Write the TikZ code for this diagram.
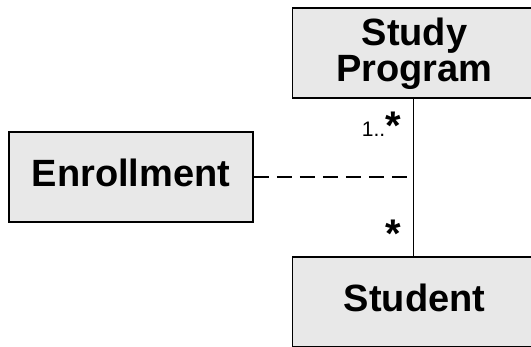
\documentclass[tikz,border=0pt]{standalone}
\usepackage{fontspec}
\setmainfont{Liberation Sans}
\begin{document}
\begin{tikzpicture}[x=1pt,y=-1pt,
  classbox/.style={draw=black,line width=1.8pt,fill=boxgray,rectangle,
    minimum width=244pt,minimum height=90pt,inner sep=0pt,
    font=\fontsize{38}{33}\selectfont\bfseries,align=center},
  assoc/.style={draw=black,line width=1.6pt},
  assocdash/.style={draw=black,line width=1.4pt,dash pattern=on 15pt off 8pt},
  mult/.style={inner sep=0pt,font=\fontsize{21}{21}\selectfont}
]
\definecolor{boxgray}{HTML}{E8E8E8}
\useasboundingbox (0,0) rectangle (531,346);
\clip (0,0) rectangle (531,346);

% classes
\node[classbox,text height=62pt,text depth=6pt] (program) at (414.5,53) {Study\\Program};
\node[classbox,text height=27pt,text depth=8pt] (enroll) at (131,177) {Enrollment};
\node[classbox,text height=27pt,text depth=8pt] (student) at (414.5,302) {Student};

% association and association class link
\draw[assoc] (program.south -| 413.5,0) -- (student.north -| 413.5,0);
\coordinate (link) at (413.5,177);
\draw[assocdash] (enroll.east) -- (link);

% multiplicities
\node[mult,anchor=base east] (mtop) at (401,136) {1..\fontsize{40}{40}\selectfont\bfseries\raisebox{-3pt}{*}};
\node[mult,anchor=base east] (mbot) at (401,243) {\fontsize{40}{40}\selectfont\bfseries\raisebox{-4pt}{*}};
\end{tikzpicture}
\end{document}
